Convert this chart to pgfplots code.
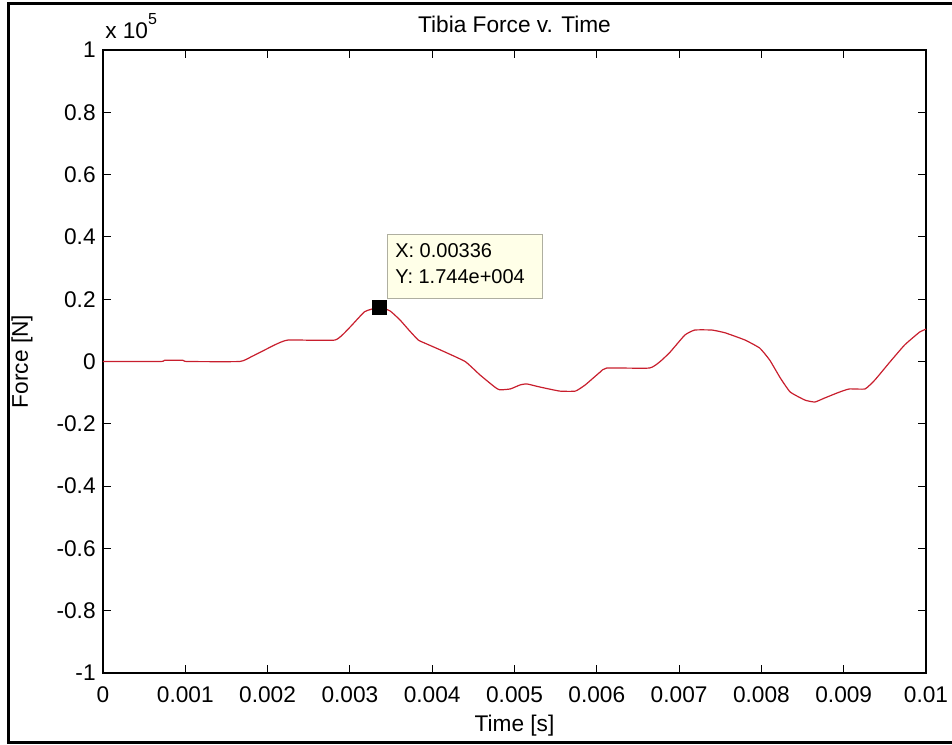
\documentclass[border=0pt]{standalone}
\usepackage{pgfplots}
\pgfplotsset{compat=1.18}
\usepackage{fontspec}
\setmainfont{Liberation Sans}
\definecolor{curve}{RGB}{200,30,45}
\definecolor{tipfill}{RGB}{255,255,232}
\definecolor{tipedge}{RGB}{175,175,160}
\begin{document}
\begin{tikzpicture}
\path[use as bounding box] (-77.25pt,-53.25pt) rectangle (636.75pt,504.75pt);
\begin{axis}[
  at={(0,0)}, anchor=south west,
  scale only axis, width=617.25pt, height=467.25pt,
  font=\fontsize{17}{20}\selectfont,
  xmin=0, xmax=0.01, ymin=-100000, ymax=100000,
  xtick={0,0.001,0.002,0.003,0.004,0.005,0.006,0.007,0.008,0.009,0.01},
  xticklabels={0,0.001,0.002,0.003,0.004,0.005,0.006,0.007,0.008,0.009,0.01},
  ytick={-100000,-80000,-60000,-40000,-20000,0,20000,40000,60000,80000,100000},
  yticklabels={-1,-0.8,-0.6,-0.4,-0.2,0,0.2,0.4,0.6,0.8,1},
  scaled ticks=false,
  tick align=inside, major tick length=6pt,
  axis line style={line width=0.8pt},
  every tick/.style={black, line width=0.8pt},
  xticklabel style={anchor=base, yshift=-21.75pt},
  yticklabel style={anchor=east, xshift=-2pt},
  xlabel={Time [s]},
  xlabel style={at={(axis description cs:0.5,-0.0931)}, anchor=base, inner sep=0pt},
  ylabel={Force [N]},
  ylabel style={at={(axis description cs:-0.0984,0.5)}, anchor=center, rotate=0},
]
\addplot[curve, line width=0.9pt, smooth, tension=0.25] coordinates {
(0,0) (0.0007,0) (0.00075,400) (0.00097,400) (0.00102,0) (0.00166,0)
(0.00180,1500) (0.00195,3500) (0.00210,5500) (0.00225,6900) (0.00282,6900)
(0.00300,11000) (0.00318,16000) (0.00336,17440) (0.00349,16200) (0.00361,13300)
(0.00372,10000) (0.00383,6900) (0.00391,5900) (0.00410,3700) (0.00440,0)
(0.00458,-4300) (0.00476,-8200) (0.00482,-9100) (0.00495,-8800) (0.00507,-7500)
(0.00515,-7200) (0.00531,-8200) (0.00555,-9500) (0.00574,-9500) (0.00586,-7500)
(0.00604,-3400) (0.00612,-2100) (0.00664,-2100) (0.00677,0) (0.00689,3000)
(0.00707,8500) (0.00719,10100) (0.00740,10100) (0.00756,9200) (0.00780,6900)
(0.00798,4300) (0.00810,500) (0.00823,-5300) (0.00835,-9800) (0.00853,-12400)
(0.00865,-13000) (0.00877,-11700) (0.00895,-9800) (0.00907,-8800) (0.00926,-8800)
(0.00938,-5900) (0.00956,-200) (0.00974,5300) (0.00992,9400) (0.01,10400)
};
\addplot[only marks, mark=square*, mark size=5.3pt, black] coordinates {(0.00336,17440)};
\end{axis}
\node[anchor=base, inner sep=0pt, font=\fontsize{17}{20}\selectfont] at (308.6pt,480pt) {Tibia Force v. Time};
\node[anchor=base west, inner sep=0pt, font=\fontsize{17}{20}\selectfont] at (1.5pt,475.5pt)
  {x 10\raisebox{11pt}{\fontsize{12}{12}\selectfont 5}};
\draw[tipedge, fill=tipfill, line width=0.75pt] (213pt,281.25pt) rectangle (329.25pt,329.25pt);
\node[anchor=base west, inner sep=0pt, font=\fontsize{15}{18}\selectfont] at (219pt,312pt) {X: 0.00336};
\node[anchor=base west, inner sep=0pt, font=\fontsize{15}{18}\selectfont] at (219pt,292.5pt) {Y: 1.744e+004};
\draw[line width=2.25pt] (636.75pt,502.1pt) -- (-70.9pt,502.1pt) -- (-70.9pt,-51.75pt) -- (636.75pt,-51.75pt);
\end{tikzpicture}
\end{document}
